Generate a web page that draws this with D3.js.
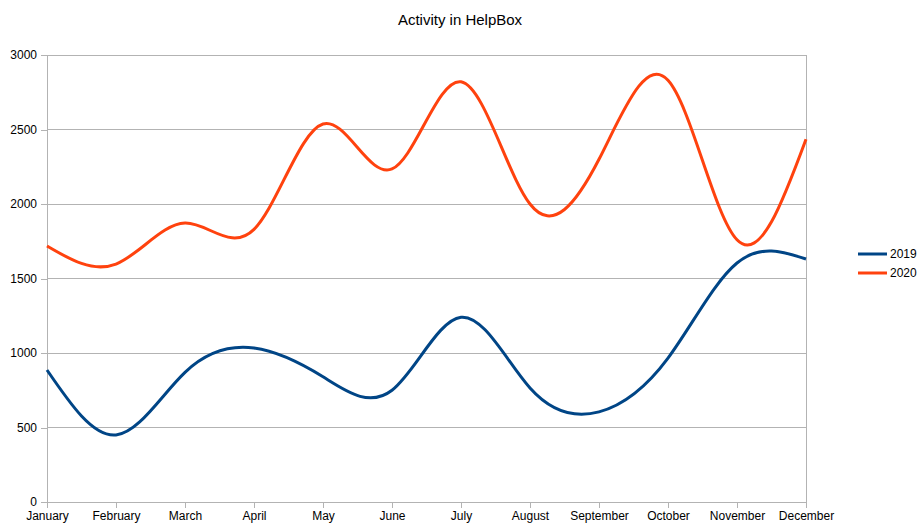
<!DOCTYPE html>
<html>
<head>
<meta charset="utf-8">
<script src="https://cdn.jsdelivr.net/npm/d3@7"></script>
<style>
  body { margin: 0; background: #fff; }
  text { font-family: "Liberation Sans", Arial, sans-serif; }
</style>
</head>
<body>
<svg id="chart"></svg>
<script>
const months = ["January", "February", "March", "April", "May", "June", "July",
  "August", "September", "October", "November", "December"];
const seriesNames = ["2019", "2020"];
const values2019 = [886, 450, 870, 1033, 840, 750, 1240, 765, 605, 966, 1604, 1631];
const values2020 = [1718, 1597, 1872, 1830, 2537, 2235, 2820, 2000, 2300, 2830, 1760, 2435];
const yTicks = [0, 500, 1000, 1500, 2000, 2500, 3000];
const colors = ["#004586", "#ff420e"];

const W = 924, H = 530;
const margin = { top: 55, right: 118, bottom: 28, left: 47 };

const svg = d3.select("#chart").attr("width", W).attr("height", H);

const x = d3.scalePoint().domain(months).range([margin.left, W - margin.right]);
const y = d3.scaleLinear().domain([0, 3000]).range([H - margin.bottom, margin.top]);

// gridlines
svg.append("g")
  .selectAll("line")
  .data(yTicks)
  .enter()
  .append("line")
  .attr("x1", margin.left)
  .attr("x2", W - margin.right)
  .attr("y1", d => y(d))
  .attr("y2", d => y(d))
  .attr("stroke", "#b3b3b3")
  .attr("shape-rendering", "crispEdges");

// right border
svg.append("line")
  .attr("x1", W - margin.right).attr("x2", W - margin.right)
  .attr("y1", y(3000)).attr("y2", y(0))
  .attr("stroke", "#b3b3b3")
  .attr("shape-rendering", "crispEdges");

// y axis
const yAxis = svg.append("g")
  .attr("transform", `translate(${margin.left},0)`)
  .call(d3.axisLeft(y).tickValues(yTicks).tickFormat(d3.format("d"))
    .tickSize(6).tickPadding(4).tickSizeOuter(0));
yAxis.selectAll("path, line").attr("stroke", "#b3b3b3").attr("shape-rendering", "crispEdges");
yAxis.selectAll("text").style("font-size", "12px").attr("fill", "#000");

// x axis
const xAxis = svg.append("g")
  .attr("transform", `translate(0,${y(0)})`)
  .call(d3.axisBottom(x).tickSize(6).tickPadding(3).tickSizeOuter(0));
xAxis.selectAll("path, line").attr("stroke", "#b3b3b3").attr("shape-rendering", "crispEdges");
xAxis.selectAll("text").style("font-size", "12px").attr("fill", "#000");

// lines
const line = d3.line()
  .x((d, i) => x(months[i]))
  .y(d => y(d))
  .curve(d3.curveNatural);

[values2019, values2020].forEach((vals, i) => {
  svg.append("path")
    .datum(vals)
    .attr("fill", "none")
    .attr("stroke", colors[i])
    .attr("stroke-width", 3)
    .attr("d", line);
});

// title
svg.append("text")
  .attr("x", 460)
  .attr("y", 25)
  .attr("text-anchor", "middle")
  .style("font-size", "15px")
  .text("Activity in HelpBox");

// legend
const legend = svg.append("g").attr("transform", "translate(858,254)");
seriesNames.forEach((name, i) => {
  legend.append("line")
    .attr("x1", 0).attr("x2", 29)
    .attr("y1", i * 19).attr("y2", i * 19)
    .attr("stroke", colors[i])
    .attr("stroke-width", 3);
  legend.append("text")
    .attr("x", 32)
    .attr("y", i * 19 + 4)
    .style("font-size", "12px")
    .text(name);
});
</script>
</body>
</html>
